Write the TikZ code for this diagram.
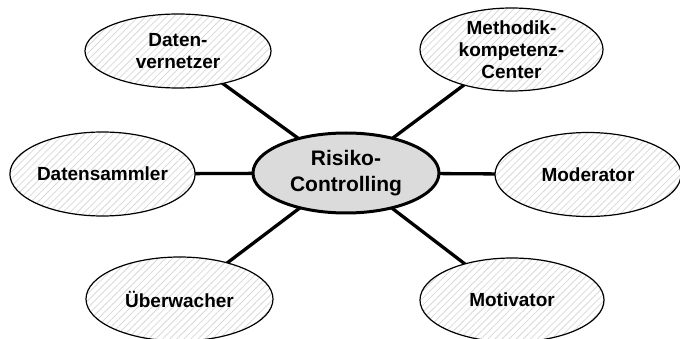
\documentclass[tikz,border=0pt]{standalone}
\usepackage{fontspec}
\setmainfont{Liberation Sans}
\usetikzlibrary{shapes.geometric,patterns.meta,backgrounds}
\tikzset{
  outer/.style={ellipse, draw=black, line width=1.2pt, inner sep=0pt,
    preaction={fill=white},
    pattern={Lines[angle=45,distance=5pt,line width=0.8pt]}, pattern color=black!15,
    align=center, font=\fontsize{19}{22}\selectfont\bfseries},
  hub/.style={ellipse, draw=black, line width=3pt, inner sep=0pt,
    fill=black!14, minimum width=186pt, minimum height=80pt,
    align=center, font=\fontsize{21}{26}\selectfont\bfseries},
  link/.style={line width=3.3pt, black}
}
\begin{document}
\begin{tikzpicture}[x=1pt,y=-1pt]
\useasboundingbox (0,0) rectangle (680,339);
\node[hub] (c) at (346,173) {Risiko-\\Controlling};
\node[outer, minimum width=186pt, minimum height=74pt] (dv) at (178,51) {Daten-\\vernetzer};
\node[outer, minimum width=183pt, minimum height=83pt] (mk) at (511.5,49.5) {Methodik-\\kompetenz-\\Center};
\node[outer, minimum width=183pt, minimum height=84pt] (ds) at (102.5,174) {Datensammler};
\node[outer, minimum width=186pt, minimum height=84pt] (mo) at (588,174.5) {Moderator};
\node[outer, minimum width=187pt, minimum height=84pt] (ue) at (179.5,299) {Überwacher};
\node[outer, minimum width=184pt, minimum height=84pt] (mv) at (512,300) {Motivator};
\begin{scope}[on background layer]
\draw[link] (c.center) -- (dv.center);
\draw[link] (c.center) -- (mk.center);
\draw[link] (c.center) -- (ds.center);
\draw[link] (c.center) -- (mo.center);
\draw[link] (c.center) -- (ue.center);
\draw[link] (c.center) -- (mv.center);
\end{scope}
\end{tikzpicture}
\end{document}
